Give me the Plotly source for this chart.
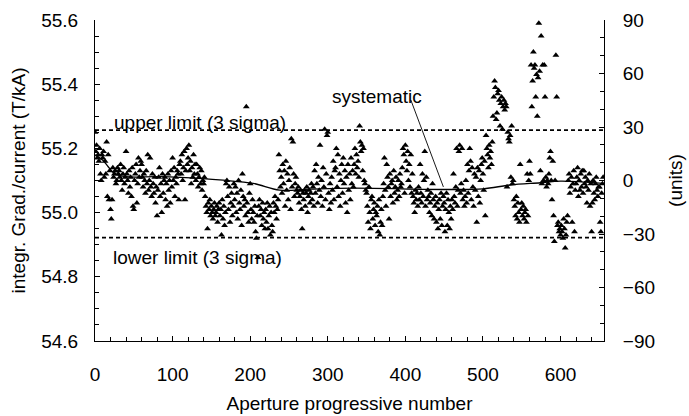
import plotly.graph_objects as go

# ---- data ----
grad = [
    55.25, 55.19, 55.21, 55.17, 55.18, 55.16, 55.20, 55.12, 55.10, 55.18,
    55.17, 55.19, 55.11, 55.16, 55.12, 55.22, 55.05, 55.18, 55.04, 55.13,
    55.01, 54.98, 55.04, 55.14, 55.11, 55.12, 55.13, 55.09, 55.10, 55.14,
    55.12, 55.13, 55.11, 55.15, 55.10, 55.07, 55.12, 55.14, 55.09, 55.11,
    55.19, 55.12, 55.10, 55.06, 55.13, 55.08, 55.11, 55.05, 55.14, 55.02,
    55.01, 55.10, 55.12, 55.15, 55.03, 55.09, 55.17, 55.11, 55.13, 55.16,
    55.15, 55.11, 55.08, 55.12, 55.10, 55.06, 55.13, 55.09, 55.18, 55.07,
    55.10, 55.17, 55.08, 55.05, 55.12, 55.09, 55.06, 55.11, 55.03, 55.08,
    54.99, 55.07, 55.11, 55.14, 55.05, 55.09, 55.00, 55.12, 55.06, 55.10,
    55.11, 55.04, 55.09, 55.02, 55.12, 55.07, 55.10, 55.03, 55.13, 55.08,
    55.17, 55.10, 55.14, 55.05, 55.11, 55.09, 55.13, 55.12, 55.04, 55.15,
    55.16, 55.12, 55.18, 55.10, 55.14, 55.19, 55.04, 55.13, 55.20, 55.15,
    55.17, 55.21, 55.13, 55.16, 55.09, 55.14, 55.11, 55.18, 55.12, 55.15,
    55.10, 55.15, 55.12, 55.08, 55.11, 55.14, 55.09, 55.13, 55.07, 55.10,
    55.09, 55.11, 55.05, 55.02, 55.00, 54.95, 55.03, 55.01, 55.04, 54.99,
    55.02, 55.00, 54.98, 55.01, 55.03, 54.99, 55.00, 55.02, 54.97, 55.01,
    55.03, 54.99, 55.01, 54.93, 55.04, 54.98, 55.02, 54.96, 55.00, 55.09,
    55.10, 55.05, 55.01, 55.08, 54.97, 55.03, 55.06, 54.99, 55.02, 55.09,
    55.04, 55.08, 55.00, 55.06, 54.98, 55.10, 55.03, 55.01, 55.07, 54.96,
    55.12, 55.05, 55.02, 55.04, 54.99, 55.33, 55.03, 55.00, 54.97, 55.06,
    55.09, 55.01, 54.98, 55.04, 55.00, 54.97, 55.02, 54.94, 54.92, 54.99,
    54.86, 55.02, 55.04, 54.99, 55.01, 54.96, 55.03, 54.98, 55.00, 54.95,
    55.01, 54.97, 55.03, 54.95, 54.99, 55.02, 54.93, 55.00, 54.96, 54.94,
    55.03, 55.00, 55.05, 55.02, 54.98, 55.01, 55.04, 55.18, 55.13, 55.08,
    55.11, 55.06, 55.15, 55.09, 55.13, 55.02, 55.16, 55.07, 55.12, 55.04,
    55.10, 55.14, 55.01, 55.23, 55.08, 55.22, 55.12, 55.05, 55.09, 55.11,
    55.07, 55.06, 55.08, 55.03, 55.05, 55.07, 55.01, 54.95, 55.06, 55.04,
    55.07, 55.02, 55.06, 55.08, 55.00, 55.05, 55.07, 55.03, 55.06, 55.09,
    55.04, 55.08, 55.02, 55.13, 55.06, 55.15, 55.09, 55.03, 55.11, 55.07,
    55.21, 55.05, 55.10, 55.02, 55.14, 55.08, 55.26, 55.04, 55.12, 55.24,
    55.25, 55.06, 55.01, 55.09, 55.03, 55.11, 55.07, 55.16, 55.04, 55.13,
    55.14, 55.20, 55.08, 55.18, 55.05, 55.12, 55.02, 55.10, 55.15, 55.06,
    55.17, 55.09, 55.13, 55.03, 55.11, 55.00, 55.15, 55.07, 55.12, 55.04,
    55.17, 55.09, 55.13, 55.08, 55.15, 55.20, 55.12, 55.18, 55.14, 55.16,
    55.11, 55.27, 55.22, 55.19, 55.21, 55.13, 55.20, 55.10, 55.09, 55.07,
    55.06, 55.02, 54.97, 55.08, 55.00, 54.95, 55.04, 55.05, 54.98, 55.01,
    55.03, 54.96, 55.00, 54.99, 55.02, 54.94, 55.04, 54.93, 54.97, 55.01,
    54.96, 55.05, 55.09, 55.17, 55.07, 55.02, 55.15, 55.11, 55.08, 54.98,
    55.12, 55.05, 55.09, 55.10, 55.03, 55.13, 55.06, 55.08, 55.11, 55.04,
    55.07, 55.10, 55.05, 55.12, 55.08, 55.09, 55.14, 55.20, 55.18, 55.06,
    55.21, 55.16, 55.13, 55.19, 55.10, 55.15, 55.08, 55.18, 55.06, 55.12,
    55.05, 55.03, 55.00, 55.07, 55.04, 55.06, 55.02, 55.08, 55.04, 55.15,
    55.06, 55.03, 55.12, 55.05, 55.10, 55.19, 55.02, 55.11, 55.04, 55.07,
    55.05, 55.00, 55.03, 55.06, 54.99, 55.09, 55.04, 54.98, 55.02, 55.05,
    54.97, 55.03, 54.95, 55.01, 55.04, 54.98, 55.06, 54.96, 55.02, 55.05,
    55.03, 54.94, 55.01, 55.06, 54.96, 55.04, 55.00, 54.95, 55.02, 54.98,
    55.04, 55.01, 55.12, 55.05, 55.03, 55.08, 55.20, 55.02, 55.07, 55.19,
    55.21, 55.06, 55.09, 55.20, 55.04, 55.07, 55.02, 55.05, 55.10, 55.03,
    55.15, 55.06, 55.13, 55.20, 55.16, 55.04, 55.14, 55.08, 55.02, 55.12,
    55.07, 55.11, 54.97, 55.14, 55.05, 55.13, 55.03, 55.10, 55.15, 55.17,
    55.12, 55.07, 55.16, 54.99, 55.24, 55.20, 55.18, 55.14, 55.21, 55.17,
    55.19, 55.15, 55.22, 55.30, 55.36, 55.41, 55.39, 55.29, 55.31, 55.37,
    55.38, 55.35, 55.27, 55.34, 55.36, 55.26, 55.33, 55.35, 55.32, 55.34,
    55.33, 55.08, 55.25, 55.23, 55.22, 55.24, 55.11, 55.27, 55.09, 55.10,
    55.04, 55.02, 54.99, 55.05, 54.98, 55.03, 55.00, 54.97, 55.15, 55.01,
    55.03, 54.99, 55.02, 54.98, 55.00, 55.01, 54.97, 55.12, 54.99, 55.10,
    55.16, 55.12, 55.46, 55.33, 55.41, 55.50, 55.45, 55.46, 55.36, 55.43,
    55.30, 55.42, 55.59, 55.44, 55.13, 55.55, 55.09, 55.46, 55.10, 55.46,
    55.36, 55.11, 55.08, 55.10, 55.09, 55.12, 55.17, 55.19, 55.10, 55.04,
    55.16, 54.99, 54.91, 55.10, 55.49, 55.36, 54.96, 54.97, 54.94, 54.95,
    54.93, 54.96, 54.94, 54.92, 54.98, 54.95, 54.89, 54.93, 54.97, 54.99,
    55.10, 55.12, 55.06, 55.08, 55.11, 54.97, 55.09, 55.13, 54.94, 55.07,
    55.09, 55.11, 55.14, 55.05, 55.10, 55.07, 55.12, 55.08, 55.13, 55.06,
    55.13, 55.09, 55.11, 55.08, 55.03, 55.10, 55.07, 55.12, 55.02, 55.09,
    54.94, 55.03, 55.10, 55.06, 55.04, 55.09, 55.11, 55.07, 55.05, 55.08,
    55.08, 54.97, 54.94, 55.06, 55.09, 55.11,
]
aperture = list(range(len(grad)))

# systematic trend (read at a few apertures)
sys_aperture = [0, 10, 17, 25, 40, 83, 139, 165, 204, 238, 277, 333, 449, 500, 535, 574, 600, 655]
sys_value = [55.18, 55.163, 55.143, 55.122, 55.112, 55.112, 55.106, 55.101, 55.091,
             55.070, 55.073, 55.076, 55.072, 55.074, 55.086, 55.093, 55.098, 55.091]

upper_limit = 55.257
lower_limit = 54.922

x_range = [0, 656]
y_range = [54.6, 55.6]
y2_range = [-90, 90]
y_ticks = [54.6, 54.8, 55.0, 55.2, 55.4, 55.6]
y2_ticks = [-90, -60, -30, 0, 30, 60, 90]
x_ticks = [0, 100, 200, 300, 400, 500, 600]

label_upper = "upper limit (3 sigma)"
label_lower = "lower limit (3 sigma)"
label_sys = "systematic"
sys_text_pos = (363, 55.363)
sys_tail = (407, 55.351)
sys_tip = (449, 55.080)
upper_text_pos = (22, 55.282)
lower_text_pos = (21, 54.859)

FONT = "Liberation Sans, Arial, sans-serif"
FS = 19

fig = go.Figure()
fig.add_trace(go.Scatter(
    x=aperture, y=grad, mode="markers",
    marker=dict(symbol="triangle-up", size=6, color="black", line=dict(width=0)),
    showlegend=False, hoverinfo="skip"))
fig.add_trace(go.Scatter(
    x=sys_aperture, y=sys_value, mode="lines", line=dict(color="black", width=1.3, shape="spline"),
    showlegend=False, hoverinfo="skip"))
# invisible trace to activate the right axis
fig.add_trace(go.Scatter(x=[None], y=[None], yaxis="y2", showlegend=False))

for lim in (upper_limit, lower_limit):
    fig.add_shape(type="line", xref="x", yref="y", x0=x_range[0], x1=x_range[1], y0=lim, y1=lim,
                  line=dict(color="black", width=1.6, dash="4px,3px"))

fig.add_shape(type="line", xref="x", yref="y", x0=sys_tail[0], y0=sys_tail[1], x1=sys_tip[0], y1=sys_tip[1],
              line=dict(color="black", width=0.9))

fig.add_annotation(x=upper_text_pos[0], y=upper_text_pos[1], text=label_upper, showarrow=False,
                   xanchor="left", yanchor="middle", font=dict(family=FONT, size=FS, color="black"))
fig.add_annotation(x=lower_text_pos[0], y=lower_text_pos[1], text=label_lower, showarrow=False,
                   xanchor="left", yanchor="middle", font=dict(family=FONT, size=FS, color="black"))
fig.add_annotation(x=sys_text_pos[0], y=sys_text_pos[1], text=label_sys, showarrow=False,
                   xanchor="center", yanchor="middle", font=dict(family=FONT, size=FS, color="black"))

axis_common = dict(showgrid=False, zeroline=False, showline=True, linecolor="black", linewidth=1,
                   ticks="inside", ticklen=5, tickwidth=1, tickcolor="black", automargin=False,
                   tickfont=dict(family=FONT, size=FS, color="black"))

fig.update_layout(
    width=689, height=416,
    margin=dict(l=95, r=85, t=20, b=75),
    paper_bgcolor="white", plot_bgcolor="white",
    font=dict(family=FONT, size=FS, color="black"),
    xaxis=dict(range=x_range, tickvals=x_ticks, **axis_common,
               minor=dict(dtick=20, ticks="inside", ticklen=4, tickcolor="black"),
               ticklabelstandoff=16,
               title=dict(text="Aperture progressive number", standoff=12,
                          font=dict(family=FONT, size=FS, color="black"))),
    yaxis=dict(range=y_range, tickvals=y_ticks, tickformat=".1f", **axis_common,
               minor=dict(dtick=0.05, ticks="inside", ticklen=4, tickcolor="black"),
               ticklabelstandoff=12,
               title=dict(text="integr. Grad./current (T/kA)", standoff=10,
                          font=dict(family=FONT, size=FS, color="black"))),
    yaxis2=dict(range=y2_range, tickvals=y2_ticks, overlaying="y", side="right", anchor="x",
                **axis_common,
                minor=dict(dtick=10, ticks="inside", ticklen=4, tickcolor="black"),
                ticklabelstandoff=14,
                title=dict(text="(units)", standoff=14,
                           font=dict(family=FONT, size=FS, color="black"))),
)

# remove the default page margin so the 689x416 figure fills the window exactly
fig.write_html("out.html", config={"displayModeBar": False},
               post_script="document.body.style.margin='0';")
